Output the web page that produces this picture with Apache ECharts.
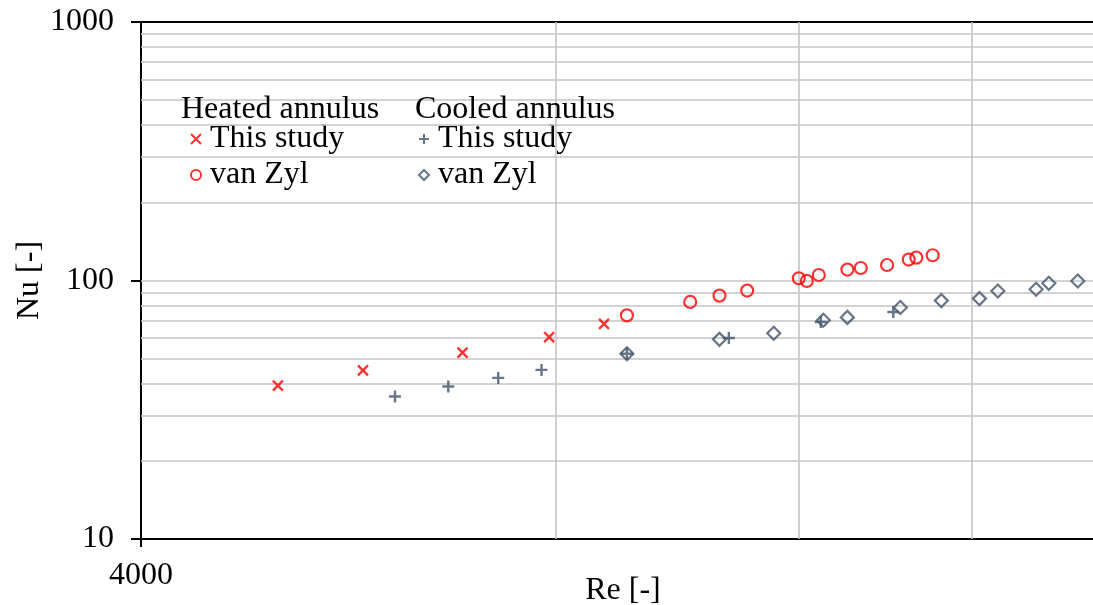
<!DOCTYPE html>
<html>
<head>
<meta charset="utf-8">
<script src="https://cdn.jsdelivr.net/npm/echarts@6/dist/echarts.min.js"></script>
<style>
html,body{margin:0;padding:0;background:#fff;}
#chart{width:1093px;height:605px;}
</style>
</head>
<body>
<div id="chart"></div>
<script>
// ---- data ----
const heatedStudyRe = [5027, 5794, 6842, 7906, 8664];
const heatedStudyNu = [39.2, 44.9, 52.6, 60.4, 67.9];
const heatedZylRe = [9002, 10005, 10506, 11003, 11994, 12155, 12401, 13007, 13301, 13898, 14410, 14594, 14999];
const heatedZylNu = [73.3, 82.6, 87.4, 91.4, 102.0, 99.6, 105.0, 110.2, 111.8, 114.8, 120.5, 122.6, 125.2];
const cooledStudyRe = [6112, 6681, 7262, 7806, 9002, 10672, 12442, 14044];
const cooledStudyNu = [35.6, 38.9, 42.0, 45.1, 52.1, 59.9, 69.1, 75.5];
const cooledZylRe = [9002, 10506, 11503, 12496, 13007, 14210, 15216, 16216, 16722, 17824, 18206, 19109];
const cooledZylNu = [52.1, 59.2, 62.5, 70.2, 72.0, 78.6, 83.6, 85.1, 91.1, 92.5, 97.5, 99.6];

const xGridValues = [8000, 12000, 16000];
const yGridValues = [20, 30, 40, 50, 60, 70, 80, 90, 100, 200, 300, 400, 500, 600, 700, 800, 900];
const xTickLabels = [4000];
const headers = ['Heated annulus', 'Cooled annulus'];
const seriesNames = ['Heated: This study', 'Heated: van Zyl', 'Cooled: This study', 'Cooled: van Zyl'];

const FONT = "'Liberation Serif', 'Times New Roman', serif";
const FS = 32;
const RED = '#ff0000';
const SLATE = '#44546a';
const GRID = '#c4c4c4';

function pairs(xs, ys) { return xs.map((x, i) => [x, ys[i]]); }

const chart = echarts.init(document.getElementById('chart'), null, {renderer: 'canvas'});

const legendBase = {
  orient: 'vertical',
  top: 123,
  itemWidth: 10,
  itemHeight: 10,
  itemGap: 4,
  padding: 0,
  selectedMode: false,
  formatter: n => n.split(': ')[1],
  textStyle: {fontSize: FS, fontFamily: FONT, color: '#000', padding: [0, 0, 0, 4]}
};

const option = {
  backgroundColor: '#fff',
  animation: false,
  title: [
    {text: headers[0], left: 181, top: 94, padding: 0, textStyle: {fontSize: FS, fontFamily: FONT, fontWeight: 'normal', color: '#000'}},
    {text: headers[1], left: 415, top: 94, padding: 0, textStyle: {fontSize: FS, fontFamily: FONT, fontWeight: 'normal', color: '#000'}}
  ],
  legend: [
    Object.assign({}, legendBase, {left: 190, data: [seriesNames[0], seriesNames[1]]}),
    Object.assign({}, legendBase, {left: 418, data: [seriesNames[2], seriesNames[3]]})
  ],
  grid: {left: 141, top: 22, right: 0, bottom: 66, containLabel: false, outerBoundsMode: 'none'},
  xAxis: [
    {
      type: 'log', logBase: 10, min: 4000, max: 19600,
      name: 'Re [-]', nameLocation: 'middle', nameGap: 36, nameMoveOverlap: false,
      nameTextStyle: {fontSize: FS, fontFamily: FONT, color: '#000', padding: [0, 0, 0, 12]},
      axisLine: {show: true, lineStyle: {color: '#000', width: 2}},
      axisTick: {show: true, customValues: xTickLabels, length: 8, lineStyle: {color: '#000', width: 2}},
      axisLabel: {
        fontSize: FS, fontFamily: FONT, color: '#000', margin: 21,
        showMinLabel: true,
        formatter: v => xTickLabels.some(t => Math.abs(v - t) < 1) ? String(Math.round(v)) : ''
      },
      splitLine: {show: false}
    },
    {
      type: 'log', logBase: 10, min: 4000, max: 19600, position: 'top',
      axisLine: {show: true, lineStyle: {color: '#000', width: 2}},
      axisTick: {show: false}, axisLabel: {show: false}, splitLine: {show: false}
    }
  ],
  yAxis: {
    type: 'log', logBase: 10, min: 10, max: 1000,
    name: 'Nu [-]', nameLocation: 'middle', nameGap: 95, nameMoveOverlap: false,
    nameTextStyle: {fontSize: FS, fontFamily: FONT, color: '#000'},
    axisLine: {show: true, lineStyle: {color: '#000', width: 2}},
    axisTick: {show: true, length: 10, inside: false, lineStyle: {color: '#000', width: 2}},
    axisLabel: {fontSize: FS, fontFamily: FONT, color: '#000', margin: 27, formatter: v => String(Math.round(v))},
    splitLine: {show: false}
  },
  series: [
    {
      type: 'scatter', name: '_grid', data: [], z: 1, silent: true,
      markLine: {
        silent: true, symbol: ['none', 'none'], label: {show: false},
        lineStyle: {color: GRID, width: 1.6, type: 'solid'},
        emphasis: {disabled: true},
        data: xGridValues.map(v => ({xAxis: v})).concat(yGridValues.map(v => ({yAxis: v})))
      }
    },
    {
      type: 'scatter', name: seriesNames[0], z: 5,
      symbol: 'path://M0,0L10,10M10,0L0,10', symbolSize: 10,
      itemStyle: {color: 'transparent', borderColor: RED, borderWidth: 2.4},
      data: pairs(heatedStudyRe, heatedStudyNu)
    },
    {
      type: 'scatter', name: seriesNames[1], z: 5,
      symbol: 'circle', symbolSize: 12,
      itemStyle: {color: 'transparent', borderColor: RED, borderWidth: 2.2},
      data: pairs(heatedZylRe, heatedZylNu)
    },
    {
      type: 'scatter', name: seriesNames[2], z: 5,
      symbol: 'path://M5,0L5,10M0,5L10,5', symbolSize: 12,
      itemStyle: {color: 'transparent', borderColor: SLATE, borderWidth: 2.4},
      data: pairs(cooledStudyRe, cooledStudyNu)
    },
    {
      type: 'scatter', name: seriesNames[3], z: 5,
      symbol: 'diamond', symbolSize: 13,
      itemStyle: {color: 'transparent', borderColor: SLATE, borderWidth: 2.2},
      data: pairs(cooledZylRe, cooledZylNu)
    }
  ]
};
chart.setOption(option);
</script>
</body>
</html>
